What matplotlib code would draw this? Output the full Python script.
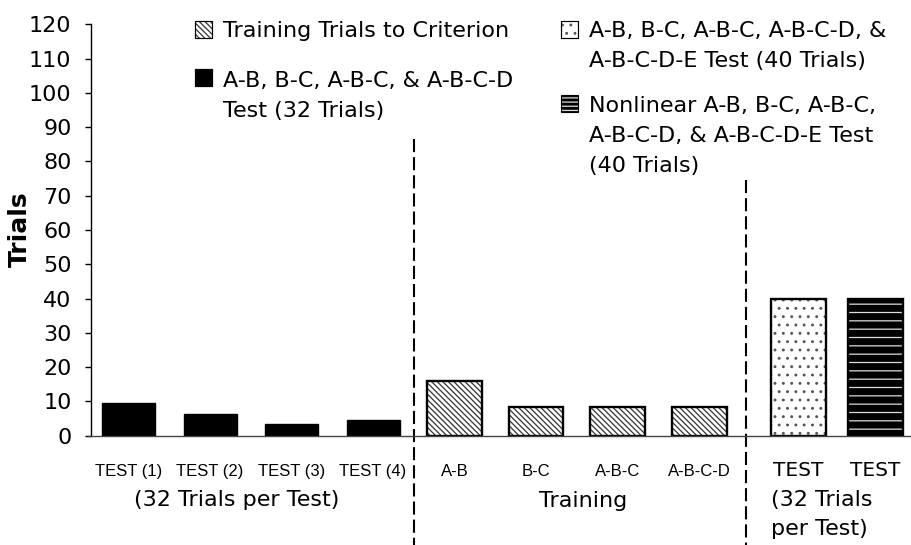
import matplotlib
matplotlib.use('Agg')
import matplotlib.pyplot as plt
import matplotlib.transforms as mtransforms
from matplotlib.patches import Rectangle

# ── data ─────────────────────────────────────────────────────────────────────
test_labels  = ['TEST (1)', 'TEST (2)', 'TEST (3)', 'TEST (4)']
test_vals    = [9.4, 6.3, 3.3, 4.5]
train_labels = ['A-B', 'B-C', 'A-B-C', 'A-B-C-D']
train_vals   = [16, 8.3, 8.3, 8.3]
final_labels = ['TEST', 'TEST']
final_vals   = [40, 40]

legend_labels = [
    ['Training Trials to Criterion'],
    ['A-B, B-C, A-B-C, & A-B-C-D', 'Test (32 Trials)'],
    ['A-B, B-C, A-B-C, A-B-C-D, &', 'A-B-C-D-E Test (40 Trials)'],
    ['Nonlinear A-B, B-C, A-B-C,', 'A-B-C-D, & A-B-C-D-E Test', '(40 Trials)'],
]

plt.rcParams['font.family'] = ['DejaVu Sans']
plt.rcParams['hatch.linewidth'] = 0.9
NARROW = ['Liberation Sans Narrow', 'Liberation Sans', 'DejaVu Sans']
W, H = 912, 545
DIAG = '\\' * 6

fig = plt.figure(figsize=(W / 100, H / 100), dpi=100)
ax = fig.add_axes([91 / W, 1 - 435.7 / H, 1 - 91 / W, (435.7 - 24.3) / H])

x_test  = [0, 1, 2, 3]
x_train = [4, 5, 6, 7]
x_final = [8.22, 9.16]

ax.bar(x_test, test_vals, width=0.65, color='black', edgecolor='black', linewidth=1)
ax.bar(x_train, train_vals, width=0.67, color='white', edgecolor='#333333',
       hatch=DIAG, linewidth=0)
ax.bar(x_train, train_vals, width=0.67, fill=False, edgecolor='black', linewidth=1.7)
ax.bar(x_final[0], final_vals[0], width=0.67, color='white', edgecolor='#555555',
       hatch='..', linewidth=0)
ax.bar(x_final[1], final_vals[1], width=0.67, color='black', edgecolor='#dddddd',
       hatch='--', linewidth=0)
ax.bar(x_final, final_vals, width=0.67, fill=False, edgecolor='black', linewidth=1.7)

ax.set_xlim(-0.46, 9.61)
ax.set_ylim(0, 120)
ax.set_yticks(range(0, 121, 10))
ax.set_xticks([])
ax.tick_params(axis='y', length=4, width=1, pad=10, labelsize=16, direction='out')
for s in ['top', 'right']:
    ax.spines[s].set_visible(False)
ax.spines['left'].set_linewidth(1)
ax.spines['bottom'].set_color('#444444')
ax.spines['bottom'].set_linewidth(1)
ax.spines['bottom'].set_bounds(-0.5, 9.61)
fig.text(20 / W, 1 - 229 / H, 'Trials', rotation=90, ha='center', va='center',
         fontsize=18, fontweight='bold')

# dashed dividers (run below the axis)
for xd, ytop in [(3.5, 86.5), (7.58, 74.5)]:
    ax.plot([xd, xd], [ytop, -35], color='black', linestyle=(0, (6.3, 2.4)),
            linewidth=1.5, clip_on=False)

# category labels: x in data, y in figure pixels (baselines)
tr = mtransforms.blended_transform_factory(ax.transData, fig.transFigure)

def ylab(px):
    return 1 - px / H

for xx, lab in zip(x_test + x_train, test_labels + train_labels):
    ax.text(xx, ylab(476), lab, ha='center', va='baseline', fontsize=12,
            family=NARROW, transform=tr)
for xx, lab in zip(x_final, final_labels):
    ax.text(xx, ylab(476), lab, ha='center', va='baseline', fontsize=14.5,
            transform=tr)
ax.text(1.33, ylab(506), '(32 Trials per Test)', ha='center', va='baseline',
        fontsize=16, transform=tr)
ax.text(5.58, ylab(507), 'Training', ha='center', va='baseline', fontsize=16,
        transform=tr)
ax.text(x_final[0] - 0.34, ylab(506), '(32 Trials', ha='left', va='baseline',
        fontsize=16, transform=tr)
ax.text(x_final[0] - 0.34, ylab(535), 'per Test)', ha='left', va='baseline',
        fontsize=16, transform=tr)

# legend drawn as boxes + text
box_styles = [
    dict(facecolor='white', edgecolor='#333333', hatch=DIAG),
    dict(facecolor='black', edgecolor='black'),
    dict(facecolor='white', edgecolor='#555555', hatch='..'),
    dict(facecolor='black', edgecolor='#dddddd', hatch='----'),
]
box_pos = [(195, 21), (195, 69), (561, 21), (561, 95)]
base_pos = [37, 87, 37, 112]
for (bx, by), st, lines, yb in zip(box_pos, box_styles, legend_labels, base_pos):
    fig.patches.append(Rectangle((bx / W, 1 - (by + 17) / H), 17 / W, 17 / H,
                                 transform=fig.transFigure, linewidth=0.8, **st))
    fig.patches.append(Rectangle((bx / W, 1 - (by + 17) / H), 17 / W, 17 / H,
                                 transform=fig.transFigure, fill=False,
                                 edgecolor='black', linewidth=0.8))
    for i, line in enumerate(lines):
        fig.text((bx + 28) / W, 1 - (yb + 30 * i) / H, line, ha='left',
                 va='baseline', fontsize=16)

fig.savefig('out.png', dpi=100)
